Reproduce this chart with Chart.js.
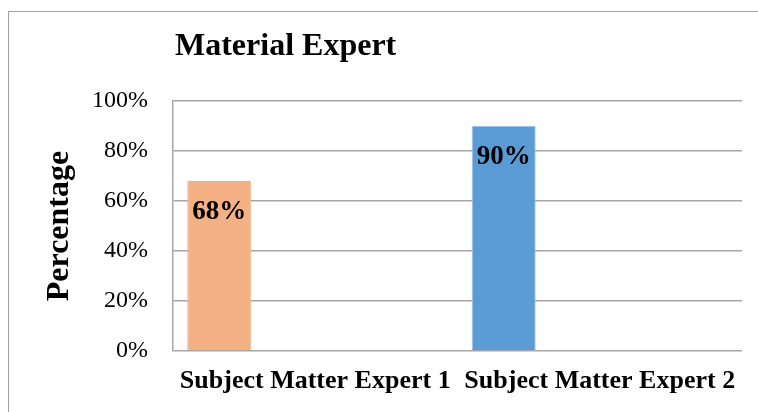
<!DOCTYPE html>
<html>
<head>
<meta charset="utf-8">
<script src="https://cdn.jsdelivr.net/npm/chart.js@4/dist/chart.umd.min.js"></script>
<style>
  body { margin: 0; background: #fff; }
  #wrap { position: relative; width: 758px; height: 412px; overflow: hidden; }
  #frame { position: absolute; left: 8px; top: 11px; width: 800px; height: 440px; border: 1px solid #a0a0a0; }
  #chart { position: absolute; left: 0; top: 0; }
</style>
</head>
<body>
<div id="wrap">
  <div id="frame"></div>
  <canvas id="chart" width="758" height="412"></canvas>
</div>
<script>
// dane
const chartTitle = "Material Expert";
const categories = ["Subject Matter Expert 1", "Subject Matter Expert 2"];
const scores = [68, 90];
const barColors = ["#f4b183", "#5b9bd5"];
const yTicks = [0, 20, 40, 60, 80, 100];

const serif = "'Liberation Serif', 'Times New Roman', serif";

// tytuł nad obszarem wykresu + etykiety wartości na słupkach
const extras = {
  id: "extras",
  afterDatasetsDraw(chart) {
    const ctx = chart.ctx;
    const area = chart.chartArea;
    ctx.save();
    ctx.fillStyle = "#000";
    ctx.font = "bold 32px " + serif;
    ctx.textAlign = "left";
    ctx.textBaseline = "middle";
    ctx.fillText(chartTitle, area.left + 2, 47);

    ctx.font = "bold 27px " + serif;
    ctx.textAlign = "center";
    ctx.textBaseline = "alphabetic";
    chart.getDatasetMeta(0).data.forEach((bar, i) => {
      ctx.fillText(scores[i] + "%", bar.x, bar.y + 38);
    });
    ctx.restore();
  }
};

// pierwszy słupek w grupie, reszta pusta (jak w Excelu)
new Chart("chart", {
  type: "bar",
  data: {
    labels: categories,
    datasets: [{
      data: scores,
      backgroundColor: barColors,
      borderColor: ["#f4b183", "#9dc3e6"],
      borderWidth: 1
    }, { data: [] }, { data: [] }, { data: [] }]
  },
  options: {
    responsive: false,
    animation: false,
    layout: { autoPadding: false, padding: { left: 41, right: 16, top: 101, bottom: 15 } },
    categoryPercentage: 0.9,
    barPercentage: 1.0,
    plugins: {
      legend: { display: false },
      tooltip: { enabled: false }
    },
    scales: {
      x: {
        afterFit(axis) { axis.height = 46; },
        grid: { display: false, drawTicks: false },
        border: { display: false },
        ticks: {
          color: "#000",
          font: { family: serif, size: 26, weight: "bold" },
          maxRotation: 0,
          autoSkip: false,
          padding: 15
        }
      },
      y: {
        min: 0,
        max: 100,
        afterFit(axis) { axis.width = 132; },
        afterBuildTicks(axis) { axis.ticks = yTicks.map(v => ({ value: v })); },
        grid: { color: "#a6a6a6", lineWidth: 1.5, drawTicks: false },
        border: { display: true, color: "#a6a6a6", width: 1.5 },
        ticks: {
          color: "#000",
          font: { family: serif, size: 24 },
          padding: 25,
          callback: v => v + "%"
        },
        title: {
          display: true,
          text: "Percentage",
          color: "#000",
          font: { family: serif, size: 32, weight: "bold" },
          padding: { top: 0, bottom: 14 }
        }
      }
    }
  },
  plugins: [extras]
});
</script>
</body>
</html>
